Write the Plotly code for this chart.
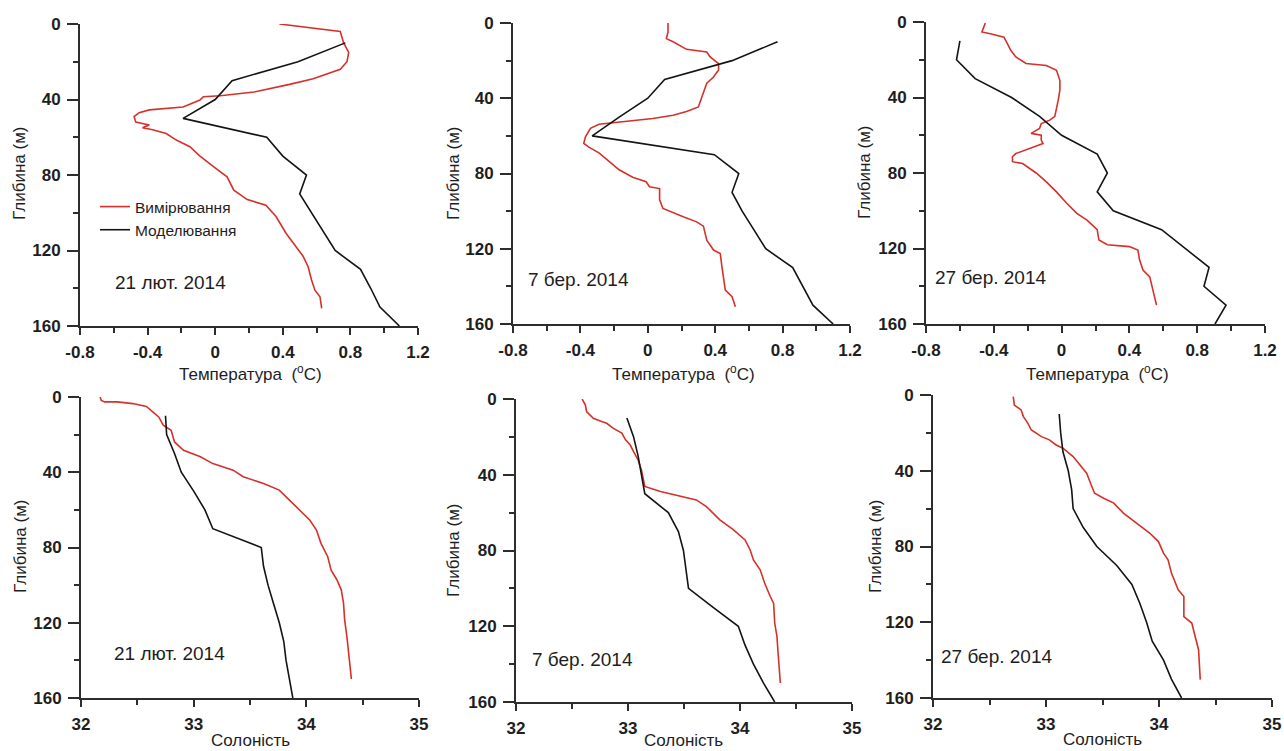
import plotly.graph_objects as go

W, H = 1284, 751

# ---------------- data ----------------
model_depth = [10, 20, 30, 40, 50, 60, 70, 80, 90, 100, 110, 120, 130, 140, 150, 160]

# Temperature, 21 Feb 2014
t1_meas_d = [0, 4, 10, 15, 20, 24, 29, 32, 36, 38, 38.5, 40.3, 44, 45.5, 47, 49, 52, 53.5, 55, 56, 58, 61.5,
             65, 70, 75.6, 81, 88, 93, 96, 102, 111, 118, 123, 128.6, 135.6, 141, 144.5, 150.6]
t1_meas_v = [0.38, 0.74, 0.76, 0.79, 0.78, 0.74, 0.58, 0.44, 0.23, 0.03, -0.07, -0.09, -0.19, -0.39, -0.45,
             -0.48, -0.47, -0.39, -0.43, -0.37, -0.29, -0.23, -0.15, -0.09, -0.01, 0.07, 0.11, 0.19, 0.30,
             0.36, 0.42, 0.48, 0.52, 0.55, 0.57, 0.59, 0.62, 0.63]
t1_model = [0.77, 0.49, 0.10, 0.0, -0.19, 0.305, 0.40, 0.54, 0.50, 0.57, 0.64, 0.71, 0.86, 0.92, 0.975, 1.09]

# Temperature, 7 Mar 2014
t2_meas_d = [0, 4.8, 8.3, 10, 14, 15.4, 18, 21.6, 25, 28.7, 32, 37.5, 44.6, 47, 49, 50.8, 52.6, 53.8, 56,
             60.5, 64, 66, 69, 75, 78, 82, 84.4, 87, 88, 94, 98.6, 103, 105.7, 108, 115.4, 120.7, 122.5,
             129.6, 136.6, 142, 145.5, 150.8]
t2_meas_v = [0.12, 0.12, 0.11, 0.15, 0.23, 0.35, 0.37, 0.42, 0.42, 0.39, 0.35, 0.33, 0.30, 0.23, 0.15, 0.03,
             -0.17, -0.29, -0.34, -0.37, -0.38, -0.35, -0.29, -0.21, -0.17, -0.09, -0.01, 0.01, 0.07, 0.07,
             0.09, 0.21, 0.29, 0.33, 0.35, 0.39, 0.43, 0.44, 0.45, 0.46, 0.50, 0.52]
t2_model = [0.77, 0.50, 0.10, 0.0, -0.17, -0.33, 0.395, 0.54, 0.50, 0.56, 0.63, 0.70, 0.86, 0.92, 0.98, 1.10]

# Temperature, 27 Mar 2014
t3_meas_d = [0.5, 5.3, 6.2, 8, 11.5, 15, 18.5, 22, 23, 25.6, 31, 36, 41.4, 46.7, 50, 52, 53.8, 56.4, 59,
             60, 62.6, 64.4, 67, 69.7, 71.4, 74, 75, 80, 84.7, 90, 96, 101.4, 105, 110, 115.5, 118, 119,
             120.8, 126, 131.4, 135, 142, 150]
t3_meas_v = [-0.45, -0.47, -0.42, -0.34, -0.32, -0.30, -0.27, -0.21, -0.09, -0.03, -0.01, -0.01, -0.02,
             -0.03, -0.04, -0.07, -0.12, -0.13, -0.18, -0.12, -0.12, -0.11, -0.19, -0.27, -0.29, -0.29,
             -0.23, -0.15, -0.09, -0.03, 0.03, 0.09, 0.15, 0.21, 0.22, 0.27, 0.40, 0.45, 0.46, 0.48, 0.52,
             0.54, 0.56]
t3_model = [-0.60, -0.62, -0.51, -0.295, -0.13, 0.0, 0.21, 0.27, 0.21, 0.305, 0.59, 0.73, 0.87, 0.84, 0.97, 0.905]

# Salinity, 21 Feb 2014
s1_meas_d = [0, 1.8, 2.6, 2.6, 3.5, 5, 8, 10.6, 15, 17.7, 23.9, 28.3, 31.8, 35.4, 38.9, 42.4, 46, 49.5,
             54.8, 60, 65.4, 70.7, 77.8, 84.9, 92, 97, 102.5, 109.6, 118.5, 127.3, 138, 150]
s1_meas_v = [32.17, 32.18, 32.21, 32.32, 32.46, 32.58, 32.64, 32.69, 32.73, 32.80, 32.83, 32.91, 33.06,
             33.17, 33.35, 33.44, 33.62, 33.76, 33.85, 33.94, 34.03, 34.09, 34.13, 34.19, 34.22, 34.27,
             34.31, 34.33, 34.34, 34.36, 34.38, 34.40]
s1_model = [32.75, 32.76, 32.83, 32.89, 33.0, 33.10, 33.17, 33.60, 33.62, 33.66, 33.71, 33.76, 33.80,
            33.82, 33.85, 33.88]

# Salinity, 7 Mar 2014
s2_meas_d = [0, 3.2, 6.7, 10.2, 12, 12.8, 15.5, 18, 21.3, 24.3, 27.8, 32.2, 37.5, 43.6, 46.2, 48.9, 51.5,
             53.3, 56.8, 63.8, 69, 74.4, 79.6, 85, 90.2, 97.2, 104.3, 107.8, 118.3, 125.4, 134, 150]
s2_meas_v = [32.59, 32.62, 32.63, 32.69, 32.77, 32.81, 32.87, 32.945, 32.975, 33.02, 33.05, 33.09, 33.12,
             33.14, 33.15, 33.29, 33.465, 33.61, 33.70, 33.82, 33.94, 34.045, 34.09, 34.12, 34.18, 34.22,
             34.27, 34.30, 34.31, 34.33, 34.34, 34.36]
s2_model = [32.99, 33.05, 33.09, 33.12, 33.15, 33.36, 33.45, 33.495, 33.516, 33.54, 33.76, 33.985, 34.045,
            34.12, 34.21, 34.31]

# Salinity, 27 Mar 2014
s3_meas_d = [0.9, 5.3, 7.9, 11.4, 15, 18.5, 22, 23.7, 26.4, 28.1, 32.5, 36.9, 41.3, 47.5, 51.9, 54.5, 57.1,
             62.4, 67.7, 73, 77.4, 83.5, 87, 94, 102.9, 106.4, 117, 120.4, 127.5, 134.5, 150.3]
s3_meas_v = [32.71, 32.72, 32.78, 32.80, 32.84, 32.87, 32.96, 33.03, 33.09, 33.15, 33.24, 33.30, 33.36,
             33.40, 33.43, 33.51, 33.60, 33.685, 33.80, 33.92, 33.995, 34.04, 34.08, 34.11, 34.17, 34.22,
             34.22, 34.29, 34.32, 34.35, 34.365]
s3_model = [33.117, 33.13, 33.15, 33.197, 33.227, 33.24, 33.33, 33.45, 33.626, 33.76, 33.83, 33.89, 33.94,
            34.04, 34.11, 34.20]

dates = ["21 лют. 2014", "7 бер. 2014", "27 бер. 2014"]
legend_names = ["Вимірювання", "Моделювання"]
temp_ticks = [-0.8, -0.4, 0, 0.4, 0.8, 1.2]
sal_ticks = [32, 33, 34, 35]
depth_ticks = [0, 40, 80, 120, 160]

# ---------------- layout geometry (pixels) ----------------
panels = [
    # (x0, x1, ytop, ybottom)
    (80, 418, 24, 326),
    (513, 850, 23, 324),
    (926, 1265, 22, 324),
    (81, 419, 397, 698),
    (516, 852, 399, 702),
    (933, 1272, 395, 698),
]
RED = "rgb(214,48,42)"
BLACK = "rgb(20,20,20)"
AX = "rgb(45,45,45)"
TXT = "rgb(30,30,30)"
FONT = "Liberation Sans"

meas = [(t1_meas_d, t1_meas_v), (t2_meas_d, t2_meas_v), (t3_meas_d, t3_meas_v),
        (s1_meas_d, s1_meas_v), (s2_meas_d, s2_meas_v), (s3_meas_d, s3_meas_v)]
models = [t1_model, t2_model, t3_model, s1_model, s2_model, s3_model]

fig = go.Figure()
for i in range(6):
    xa = "x" if i == 0 else f"x{i+1}"
    ya = "y" if i == 0 else f"y{i+1}"
    d, v = meas[i]
    fig.add_trace(go.Scatter(x=v, y=d, mode="lines", line=dict(color=RED, width=1.6),
                             name=legend_names[0], showlegend=(i == 0), xaxis=xa, yaxis=ya))
    fig.add_trace(go.Scatter(x=models[i], y=model_depth, mode="lines", line=dict(color=BLACK, width=1.6),
                             name=legend_names[1], showlegend=(i == 0), xaxis=xa, yaxis=ya))

layout = {}
for i, (x0, x1, yt, yb) in enumerate(panels):
    xk = "xaxis" if i == 0 else f"xaxis{i+1}"
    yk = "yaxis" if i == 0 else f"yaxis{i+1}"
    ya = "y" if i == 0 else f"y{i+1}"
    xa = "x" if i == 0 else f"x{i+1}"
    temp = i < 3
    ticks = temp_ticks if temp else sal_ticks
    layout[xk] = dict(
        domain=[x0 / W, x1 / W], anchor=ya, automargin=False,
        range=[-0.8, 1.2] if temp else [32, 35],
        tickmode="array", tickvals=ticks, ticktext=[("%g" % t) for t in ticks],
        ticks="outside", ticklen=7, tickwidth=2, tickcolor=AX, ticklabelstandoff=3,
        minor=dict(dtick=0.2 if temp else 0.5, tick0=0 if temp else 32, ticks="outside", ticklen=5,
                   tickwidth=2, tickcolor=AX, showgrid=False),
        showline=True, linecolor=AX, linewidth=2, showgrid=False, zeroline=False,
        tickfont=dict(family=FONT, size=17, color=TXT, weight="bold"),
    )
    layout[yk] = dict(
        domain=[1 - yb / H, 1 - yt / H], anchor=xa, automargin=False,
        range=[160, 0], tickmode="array", tickvals=depth_ticks,
        ticks="outside", ticklen=11, tickwidth=2, tickcolor=AX, ticklabelstandoff=3,
        minor=dict(dtick=20, tick0=0, ticks="outside", ticklen=5, tickwidth=2, tickcolor=AX, showgrid=False),
        showline=True, linecolor=AX, linewidth=2, showgrid=False, zeroline=False,
        tickfont=dict(family=FONT, size=17, color=TXT, weight="bold"),
    )

ann = []
def add_text(text, px, py, size=16, angle=0):
    ann.append(dict(text=text, x=px / W, y=1 - py / H, xref="paper", yref="paper",
                    showarrow=False, textangle=angle, xanchor="center", yanchor="middle",
                    font=dict(family=FONT, size=size, color=TXT)))

# x-axis titles
for cx in (250, 683, 1097):
    add_text("Температура  (<sup>o</sup>C)", cx, 373, 17)
for cx, cy in ((250, 740), (684, 740), (1102, 739)):
    add_text("Солоність", cx, cy, 17)
# y-axis titles
for cx, cy in ((19, 174), (453, 174), (865, 173), (20, 547), (453, 551), (875, 547)):
    add_text("Глибина (м)", cx, cy, 17, -90)
# dates
for (cx, cy), t in zip(((171, 282), (578, 279), (990, 277), (170, 653), (582, 659), (997, 656)),
                       dates + dates):
    add_text(t, cx, cy, 19)

fig.update_layout(
    width=W, height=H, margin=dict(l=0, r=0, t=0, b=0, autoexpand=False),
    paper_bgcolor="white", plot_bgcolor="white",
    annotations=ann,
    legend=dict(x=95 / W, y=1 - 190 / H, xanchor="left", yanchor="top", bgcolor="rgba(0,0,0,0)",
                font=dict(family=FONT, size=15.5, color=TXT), itemwidth=30,
                tracegroupgap=0, borderwidth=0),
    **layout,
)
fig.write_html("out.html", config={"displayModeBar": False},
               post_script="document.body.style.margin='0';document.body.style.overflow='hidden';")
